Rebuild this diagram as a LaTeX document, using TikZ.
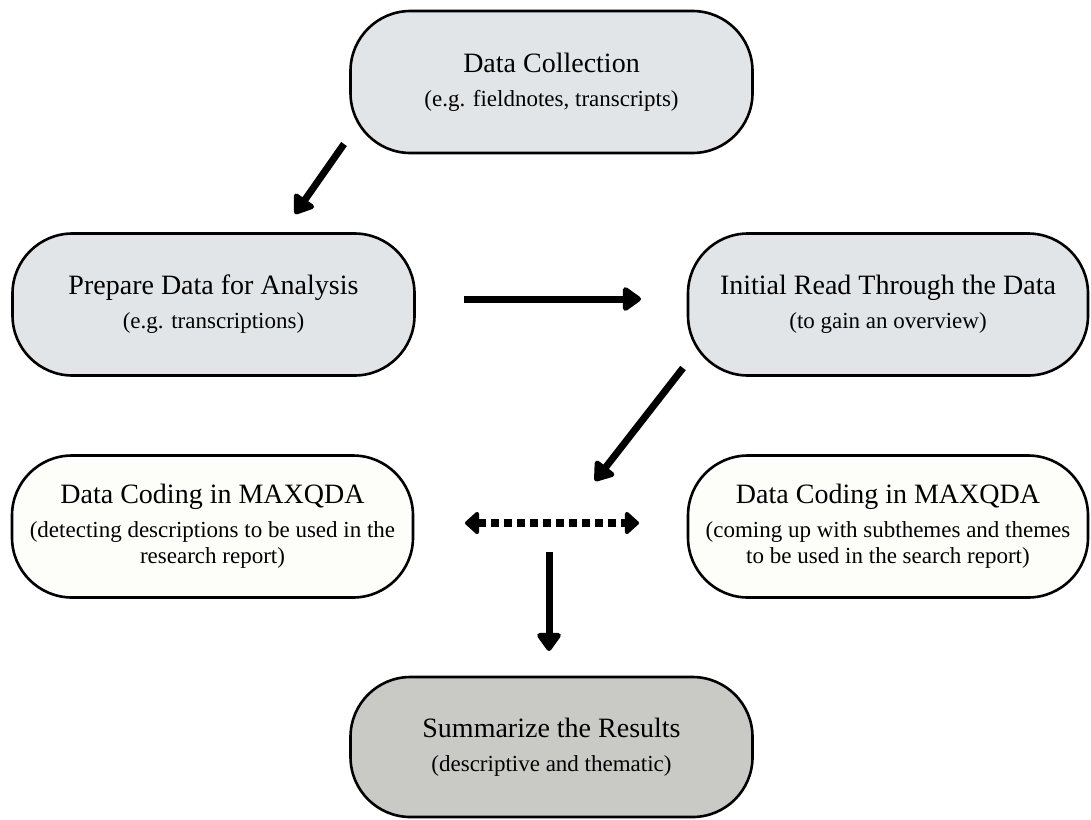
\documentclass[tikz,border=0pt]{standalone}
\usepackage{fontspec}
\setmainfont{Liberation Serif}
\usetikzlibrary{arrows.meta}
\definecolor{blueg}{RGB}{225,229,232}
\definecolor{offw}{RGB}{253,253,250}
\definecolor{sumg}{RGB}{201,202,198}
\newcommand{\ttl}{\fontsize{28}{26}\selectfont}
\newcommand{\sbt}{\fontsize{23}{26}\selectfont}
\tikzset{
  stage/.style={draw=black, line width=2.6pt, rounded corners=60pt, minimum width=402pt, minimum height=142pt, align=center, inner sep=0pt, font=\sbt},
  conn/.style={line width=7pt, -{Triangle[length=20pt,width=27pt,round]}},
  dotconn/.style={line width=8pt, dash pattern=on 8pt off 5pt, {Triangle[length=15pt,width=26pt,round]}-{Triangle[length=15pt,width=26pt,round]}}
}
\begin{document}
\begin{tikzpicture}[x=1pt,y=-1pt]
\useasboundingbox (0,0) rectangle (1091,819);
\node[stage, fill=blueg] (dc) at (551.5,82) {{\ttl Data Collection}\\[8pt](e.g. fieldnotes, transcripts)};
\node[stage, fill=blueg] (prep) at (213.5,304.5) {{\ttl Prepare Data for Analysis}\\[8pt](e.g. transcriptions)};
\node[stage, fill=blueg, minimum width=400pt] (read) at (888,304.5) {{\ttl Initial Read Through the Data}\\[8pt](to gain an overview)};
\node[stage, fill=offw, minimum width=401pt] (cl) at (212.5,526.5) {{\ttl Data Coding in MAXQDA}\\[8pt](detecting descriptions to be used in the\\research report)};
\node[stage, fill=offw, minimum width=400pt] (cr) at (888,526.5) {{\ttl Data Coding in MAXQDA}\\[8pt](coming up with subthemes and themes\\to be used in the search report)};
\node[stage, fill=sumg, minimum height=140pt] (sum) at (551.5,747) {{\ttl Summarize the Results}\\[8pt](descriptive and thematic)};
\coordinate (a1s) at (344,144);
\coordinate (a1e) at (295,214);
\coordinate (a2s) at (464,299);
\coordinate (a2e) at (641,299);
\coordinate (a3s) at (683,368);
\coordinate (a3e) at (595,481);
\coordinate (a4s) at (465,523);
\coordinate (a4e) at (639,523);
\coordinate (a5s) at (549,552);
\coordinate (a5e) at (549,651);
\draw[conn] (a1s) -- (a1e);
\draw[conn] (a2s) -- (a2e);
\draw[conn] (a3s) -- (a3e);
\draw[dotconn] (a4s) -- (a4e);
\draw[conn] (a5s) -- (a5e);
\end{tikzpicture}
\end{document}
